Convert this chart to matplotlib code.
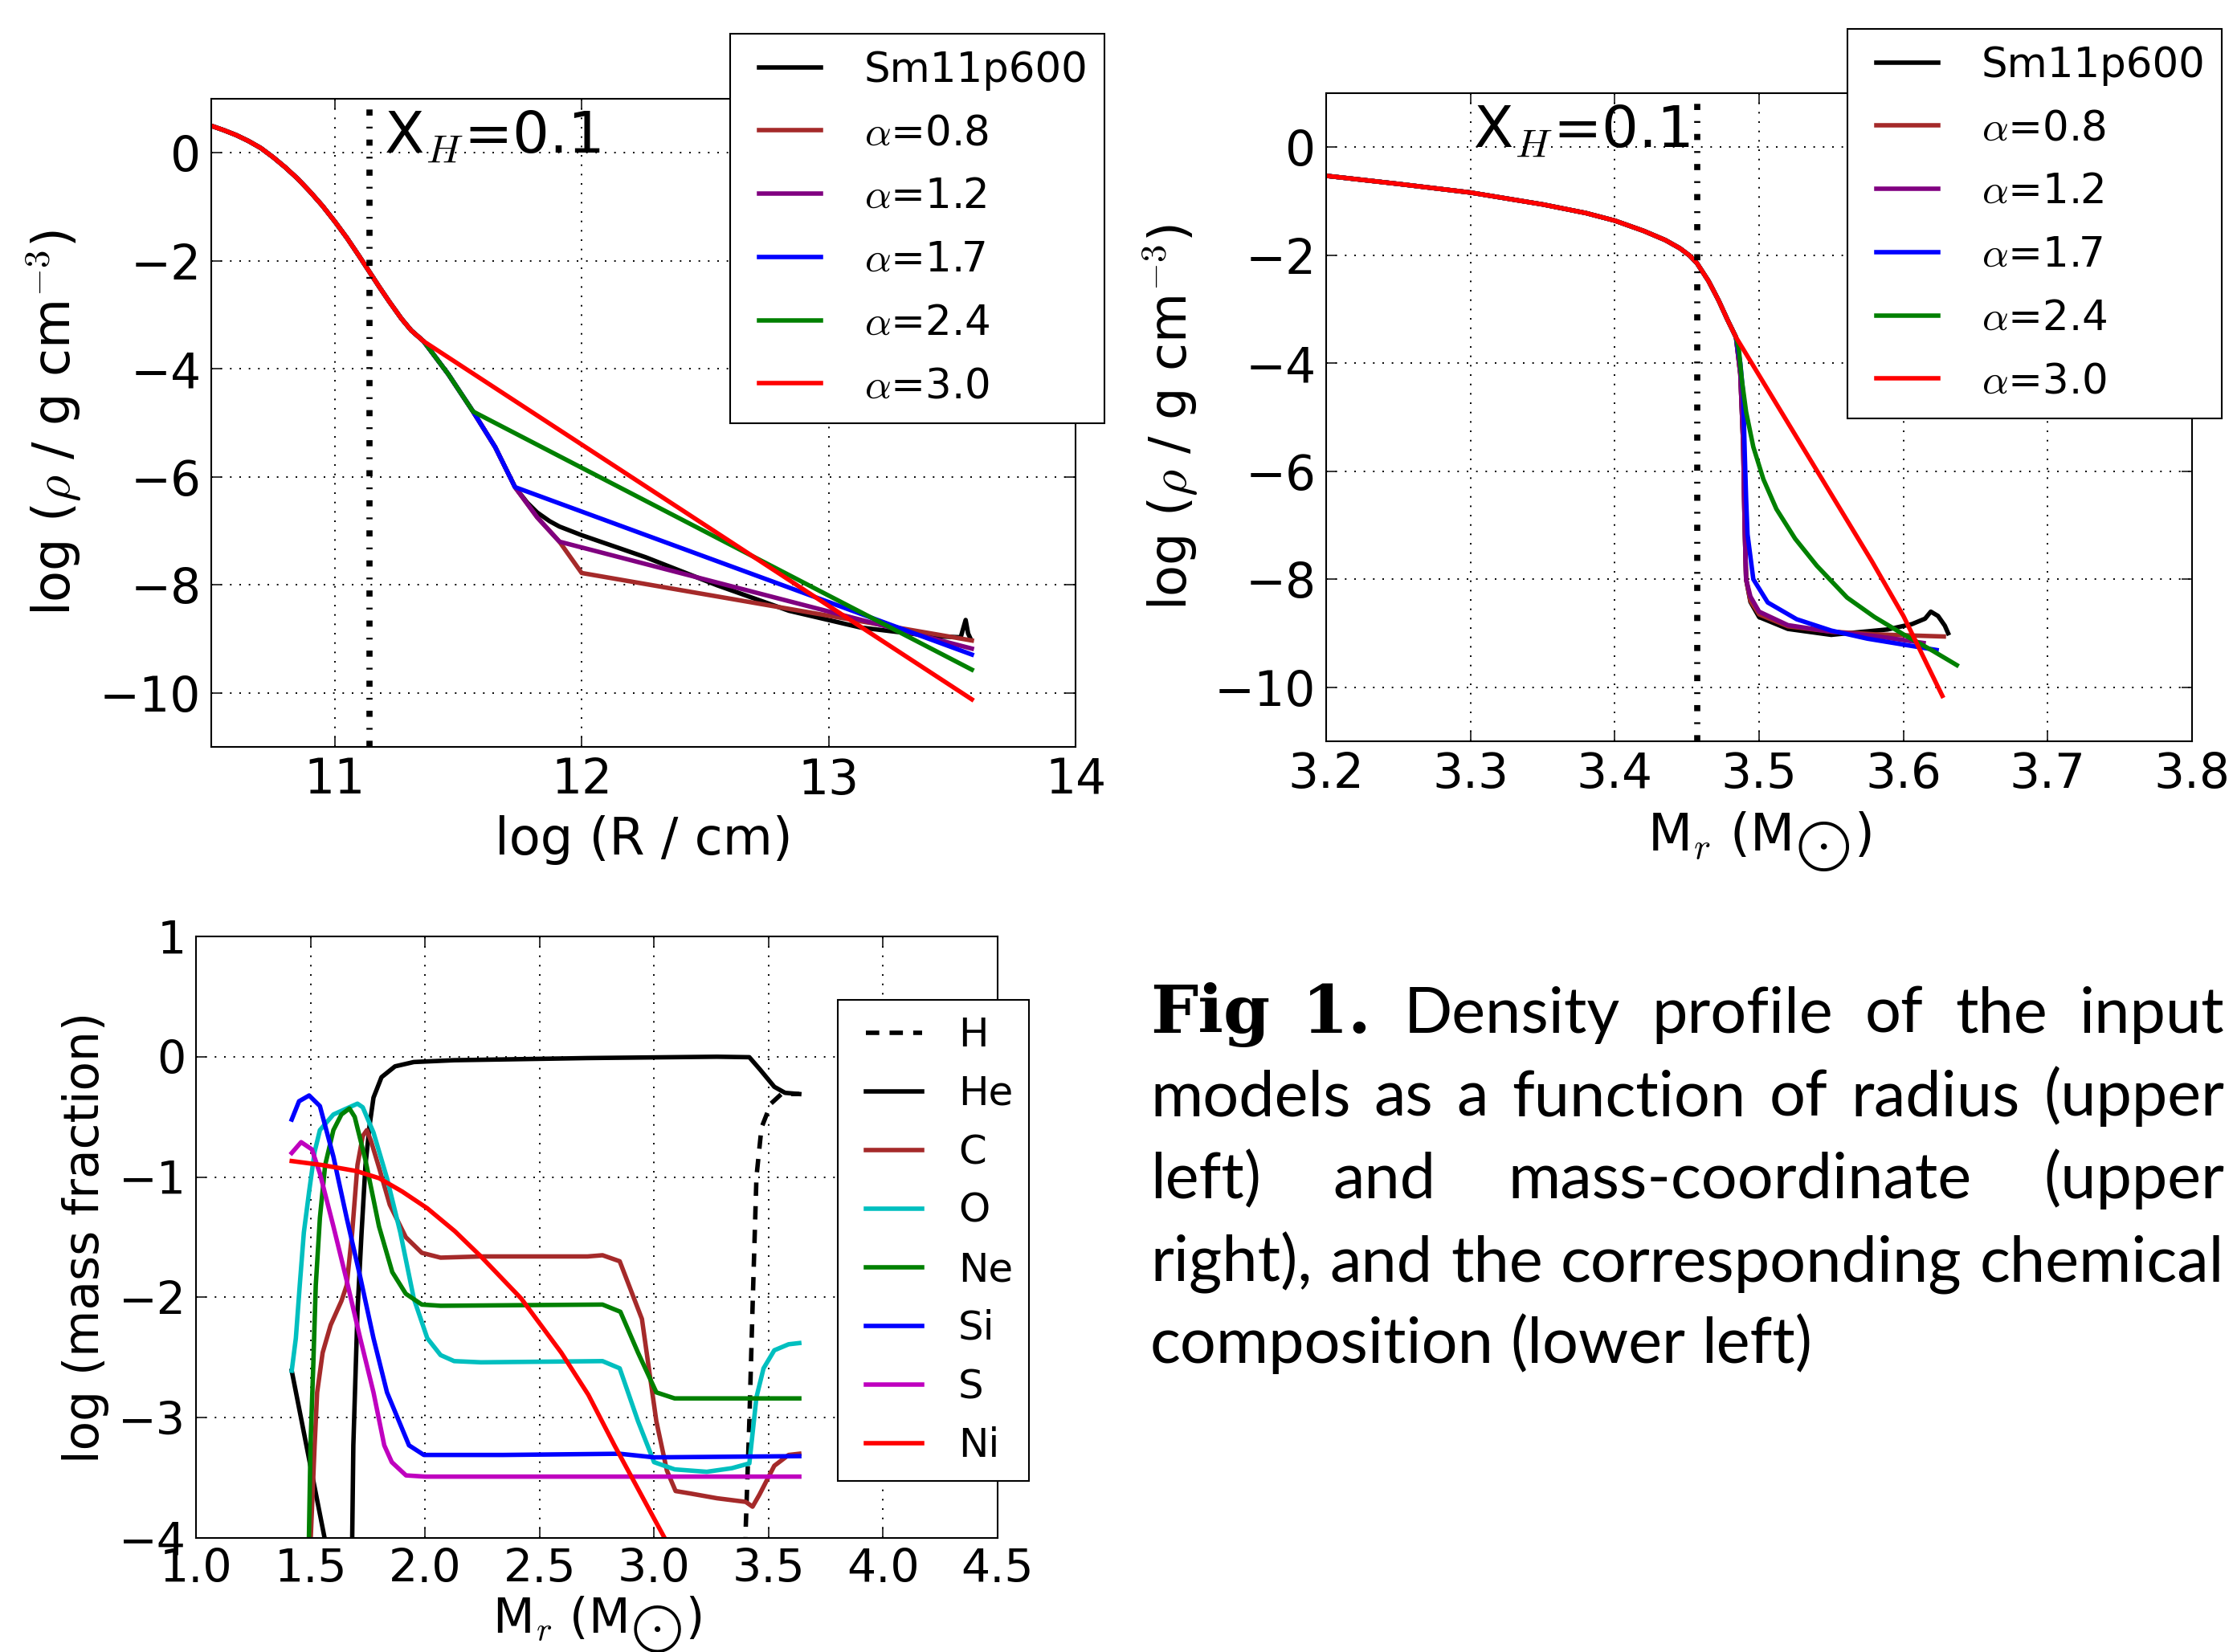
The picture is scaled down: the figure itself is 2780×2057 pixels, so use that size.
import matplotlib
matplotlib.use('Agg')
import matplotlib.pyplot as plt
from matplotlib.lines import Line2D
from matplotlib.legend_handler import HandlerLine2D
import numpy as np

plt.rcParams['font.family'] = 'DejaVu Sans'
plt.rcParams['mathtext.fontset'] = 'cm'
plt.rcParams['axes.linewidth'] = 1.5

W, H = 2780, 2057

# ---- upper left: log rho vs log R ----
r_core = [10.50, 10.55, 10.60, 10.65, 10.70, 10.75, 10.80, 10.85, 10.90, 10.95, 11.00, 11.05,
          11.10, 11.14, 11.18, 11.22, 11.27, 11.31, 11.36]
rho_core = [0.50, 0.42, 0.33, 0.22, 0.09, -0.08, -0.27, -0.48, -0.72, -0.98, -1.27, -1.58,
            -1.92, -2.20, -2.48, -2.75, -3.07, -3.29, -3.49]
r_steep = [11.46, 11.56]
rho_steep = [-4.10, -4.79]
r_black = [11.65, 11.73, 11.78, 11.82, 11.87, 11.91, 12.00, 12.26, 12.55, 12.84, 13.13, 13.42, 13.535, 13.555, 13.565, 13.575]
rho_black = [-5.45, -6.19, -6.48, -6.66, -6.82, -6.92, -7.08, -7.49, -8.01, -8.48, -8.79, -8.95, -8.97, -8.65, -8.90, -9.00]
r_a08 = [11.65, 11.73, 11.82, 11.91, 12.00, 13.58]
rho_a08 = [-5.45, -6.19, -6.75, -7.20, -7.78, -9.03]
r_a12 = [11.65, 11.73, 11.82, 11.91, 13.58]
rho_a12 = [-5.45, -6.19, -6.75, -7.20, -9.18]
r_a17 = [11.65, 11.73, 13.58]
rho_a17 = [-5.45, -6.19, -9.29]
r_a24 = [13.58]
rho_a24 = [-9.57]
r_a30 = [13.58]
rho_a30 = [-10.12]

# ---- upper right: log rho vs M_r ----
m_core = [3.20, 3.25, 3.30, 3.35, 3.38, 3.40, 3.42, 3.435, 3.445, 3.452, 3.457, 3.465, 3.472, 3.478, 3.484]
mrho_core = [-0.53, -0.68, -0.84, -1.06, -1.22, -1.36, -1.55, -1.72, -1.87, -2.01, -2.15, -2.48, -2.84, -3.19, -3.52]
m_black = [3.487, 3.489, 3.490, 3.491, 3.494, 3.50, 3.52, 3.55, 3.561, 3.589, 3.606, 3.615, 3.619, 3.624, 3.6287, 3.631]
mrho_black = [-4.2, -5.5, -7.0, -8.0, -8.42, -8.70, -8.92, -9.03, -9.00, -8.93, -8.83, -8.73, -8.60, -8.68, -8.86, -9.00]
m_a08 = [3.487, 3.489, 3.490, 3.491, 3.494, 3.50, 3.52, 3.55, 3.58, 3.628]
mrho_a08 = [-4.2, -5.5, -7.0, -8.0, -8.40, -8.65, -8.87, -8.97, -9.02, -9.06]
m_a12 = [3.487, 3.489, 3.490, 3.491, 3.494, 3.50, 3.52, 3.55, 3.58, 3.614]
mrho_a12 = [-4.2, -5.5, -7.0, -8.0, -8.32, -8.60, -8.85, -8.97, -9.05, -9.18]
m_a17 = [3.487, 3.489, 3.490, 3.491, 3.492, 3.496, 3.506, 3.526, 3.55, 3.575, 3.60, 3.623]
mrho_a17 = [-4.0, -4.57, -5.6, -6.5, -7.17, -8.00, -8.43, -8.74, -8.95, -9.10, -9.21, -9.31]
m_a24 = [3.486, 3.488, 3.491, 3.496, 3.503, 3.512, 3.525, 3.54, 3.561, 3.58, 3.60, 3.62, 3.637]
mrho_a24 = [-3.75, -4.3, -4.9, -5.55, -6.15, -6.7, -7.25, -7.75, -8.34, -8.7, -9.02, -9.32, -9.59]
m_a30 = [3.578, 3.60, 3.627]
mrho_a30 = [-7.66, -8.68, -10.16]

# ---- lower left: composition ----
m_h = [3.397, 3.40, 3.416, 3.431, 3.447, 3.469, 3.51, 3.556, 3.634]
x_h = [-4.3, -3.93, -3.03, -2.02, -1.0, -0.59, -0.39, -0.31, -0.31]
m_he = [1.418, 1.482, 1.675, 1.687, 1.705, 1.723, 1.74, 1.758, 1.775, 1.81, 1.869, 1.951,
        2.127, 2.71, 3.275, 3.416, 3.4625, 3.525, 3.572, 3.634]
x_he = [-2.61, -3.23, -5.1, -3.23, -2.12, -1.46, -0.9, -0.57, -0.34, -0.17, -0.08, -0.044,
        -0.029, -0.011, 0.0, -0.004, -0.106, -0.25, -0.30, -0.31]
m_c = [1.498, 1.501, 1.518, 1.529, 1.553, 1.588, 1.635, 1.658, 1.682, 1.705, 1.728, 1.746,
       1.764, 1.799, 1.846, 1.916, 1.986, 2.068, 2.244, 2.71, 2.775, 2.85, 2.947, 3.01, 3.056,
       3.094, 3.157, 3.275, 3.40, 3.43, 3.46, 3.525, 3.5875, 3.634]
x_c = [-5.0, -4.0, -3.23, -2.79, -2.46, -2.23, -2.03, -1.9, -1.46, -0.9, -0.66, -0.61,
       -0.7, -0.92, -1.23, -1.5, -1.63, -1.67, -1.66, -1.66, -1.65, -1.70, -2.18, -3.03, -3.44,
       -3.61, -3.63, -3.67, -3.70, -3.74, -3.64, -3.40, -3.31, -3.30]
m_o = [1.418, 1.436, 1.453, 1.471, 1.494, 1.518, 1.541, 1.60, 1.658, 1.705, 1.728, 1.775,
       1.834, 1.892, 1.951, 2.01, 2.068, 2.127, 2.244, 2.775, 2.85, 2.93, 3.0, 3.09, 3.23,
       3.34, 3.416, 3.447, 3.478, 3.525, 3.5875, 3.634]
x_o = [-2.61, -2.34, -1.9, -1.46, -1.12, -0.79, -0.61, -0.48, -0.43, -0.39, -0.42, -0.63,
       -1.01, -1.46, -2.01, -2.34, -2.48, -2.53, -2.54, -2.53, -2.59, -3.03, -3.37, -3.43, -3.45,
       -3.42, -3.38, -2.83, -2.59, -2.44, -2.39, -2.38]
m_ne = [1.484, 1.50, 1.512, 1.523, 1.541, 1.564, 1.60, 1.635, 1.67, 1.693, 1.74, 1.799,
        1.857, 1.916, 1.986, 2.068, 2.775, 2.853, 2.93, 3.01, 3.09, 3.634]
x_ne = [-5.0, -3.23, -2.57, -1.9, -1.34, -0.9, -0.61, -0.48, -0.43, -0.5, -0.86, -1.41,
        -1.79, -1.97, -2.06, -2.07, -2.06, -2.12, -2.46, -2.79, -2.84, -2.84]
m_si = [1.418, 1.45, 1.494, 1.541, 1.60, 1.658, 1.717, 1.775, 1.834, 1.93, 1.995, 2.34, 2.85, 3.0, 3.634]
x_si = [-0.522, -0.37, -0.322, -0.41, -0.83, -1.34, -1.83, -2.34, -2.79, -3.23, -3.31, -3.31, -3.30, -3.33, -3.32]
m_s = [1.418, 1.459, 1.506, 1.541, 1.60, 1.658, 1.717, 1.775, 1.822, 1.855, 1.917, 2.0, 3.634]
x_s = [-0.8, -0.71, -0.77, -0.97, -1.41, -1.86, -2.34, -2.79, -3.23, -3.37, -3.48, -3.49, -3.49]
m_ni = [1.418, 1.55, 1.70, 1.80, 1.90, 2.01, 2.13, 2.244, 2.42, 2.595, 2.713, 2.827, 3.046, 3.10]
x_ni = [-0.867, -0.9, -0.95, -1.01, -1.12, -1.26, -1.45, -1.66, -2.01, -2.46, -2.81, -3.23, -4.0, -4.2]

xh_radius = 11.142
xh_mass = 3.457

caption_lines = [
    "Fig 1. Density profile of the input",
    "models as a function of radius (upper",
    "left) and mass-coordinate (upper",
    "right), and the corresponding chemical",
    "composition (lower left)",
]

LW = 4.0
GRID = dict(color='k', linestyle=(0, (1, 5)), linewidth=1.4)
XH_STYLE = dict(color='k', lw=5.5, linestyle=(0, (1, 1.8, 0.3, 1.8)))
MSUN = r'M$_r$ (M$_{\bigodot}$)'


def style_axes(ax, labelsize):
    ax.tick_params(direction='in', top=True, right=True, length=9.5, width=1.1,
                   labelsize=labelsize, pad=9)
    ax.grid(True, **GRID)
    ax.set_axisbelow(True)


def legend_at(ax, x_px, y_px, fontsize, spacing, hlen, tpad):
    leg = ax.legend(loc='upper left', bbox_to_anchor=(x_px / W, 1 - y_px / H),
                    bbox_transform=fig.transFigure, fontsize=fontsize, fancybox=False,
                    framealpha=1, edgecolor='k', borderaxespad=0, borderpad=0.4,
                    labelspacing=spacing, handlelength=hlen, handletextpad=tpad,
                    handler_map={Line2D: HandlerLine2D(xpad=0.3)})
    leg.get_frame().set_linewidth(1.5)
    return leg


def join(a, b):
    return list(a) + list(b)


fig = plt.figure(figsize=(W / 100, H / 100), dpi=100)

# upper left
ax1 = fig.add_axes([263 / W, 1 - 930 / H, 1076 / W, 807 / H])
r_pre = join(r_core, r_steep)
rho_pre = join(rho_core, rho_steep)
ax1.plot(join(r_pre, r_black), join(rho_pre, rho_black), color='k', lw=LW, label='Sm11p600')
ax1.plot(join(r_pre, r_a08), join(rho_pre, rho_a08), color='brown', lw=LW, label=r'$\alpha$=0.8')
ax1.plot(join(r_pre, r_a12), join(rho_pre, rho_a12), color='purple', lw=LW, label=r'$\alpha$=1.2')
ax1.plot(join(r_pre, r_a17), join(rho_pre, rho_a17), color='b', lw=LW, label=r'$\alpha$=1.7')
ax1.plot(join(r_pre, r_a24), join(rho_pre, rho_a24), color='g', lw=LW, label=r'$\alpha$=2.4')
ax1.plot(join(r_core, r_a30), join(rho_core, rho_a30), color='r', lw=LW, label=r'$\alpha$=3.0')
ax1.axvline(xh_radius, **XH_STYLE)
ax1.text(11.2, 0.0, r'X$_H$=0.1', fontsize=52, va='baseline')
ax1.set_xlim(10.5, 14)
ax1.set_ylim(-11, 1)
ax1.set_xticks([11, 12, 13, 14])
ax1.set_yticks([-10, -8, -6, -4, -2, 0])
style_axes(ax1, 43)
ax1.set_xlabel('log (R / cm)', fontsize=46)
ax1.set_ylabel(r'log ($\rho$ / g cm$^{-3}$)', fontsize=46)
ax1.xaxis.set_label_coords(0.5, -0.105)
ax1.yaxis.set_label_coords(-0.148, 0.5)
legend_at(ax1, 909, 42, 37, 0.56, 1.8, 1.05)

# upper right
ax2 = fig.add_axes([1651 / W, 1 - 923 / H, 1078 / W, 807 / H])
ax2.plot(join(m_core, m_black), join(mrho_core, mrho_black), color='k', lw=LW, label='Sm11p600')
ax2.plot(join(m_core, m_a08), join(mrho_core, mrho_a08), color='brown', lw=LW, label=r'$\alpha$=0.8')
ax2.plot(join(m_core, m_a12), join(mrho_core, mrho_a12), color='purple', lw=LW, label=r'$\alpha$=1.2')
ax2.plot(join(m_core, m_a17), join(mrho_core, mrho_a17), color='b', lw=LW, label=r'$\alpha$=1.7')
ax2.plot(join(m_core, m_a24), join(mrho_core, mrho_a24), color='g', lw=LW, label=r'$\alpha$=2.4')
ax2.plot(join(m_core, m_a30), join(mrho_core, mrho_a30), color='r', lw=LW, label=r'$\alpha$=3.0')
ax2.axvline(xh_mass, **XH_STYLE)
ax2.text(3.302, 0.0, r'X$_H$=0.1', fontsize=52, va='baseline')
ax2.set_xlim(3.2, 3.8)
ax2.set_ylim(-11, 1)
ax2.set_xticks(np.arange(3.2, 3.81, 0.1))
ax2.set_xticklabels(['%.1f' % v for v in np.arange(3.2, 3.81, 0.1)])
ax2.set_yticks([-10, -8, -6, -4, -2, 0])
style_axes(ax2, 43)
ax2.set_xlabel(MSUN, fontsize=46)
ax2.set_ylabel(r'log ($\rho$ / g cm$^{-3}$)', fontsize=46)
ax2.xaxis.set_label_coords(0.5, -0.106)
ax2.yaxis.set_label_coords(-0.146, 0.5)
legend_at(ax2, 2300, 36, 37, 0.56, 1.8, 1.05)

# lower left
ax3 = fig.add_axes([244 / W, 1 - 1915 / H, 998 / W, 749 / H])
ax3.plot(m_h, x_h, color='k', lw=LW, linestyle=(0, (3.0, 2.3)), label='H')
ax3.plot(m_he, x_he, color='k', lw=LW, label='He')
ax3.plot(m_c, x_c, color='brown', lw=LW, label='C')
ax3.plot(m_o, x_o, color='c', lw=LW, label='O')
ax3.plot(m_ne, x_ne, color='g', lw=LW, label='Ne')
ax3.plot(m_si, x_si, color='b', lw=LW, label='Si')
ax3.plot(m_s, x_s, color='m', lw=LW, label='S')
ax3.plot(m_ni, x_ni, color='r', lw=LW, label='Ni')
ax3.set_xlim(1.0, 4.5)
ax3.set_ylim(-4, 1)
ax3.set_xticks(np.arange(1.0, 4.51, 0.5))
ax3.set_xticklabels(['%.1f' % v for v in np.arange(1.0, 4.51, 0.5)])
ax3.set_yticks([-4, -3, -2, -1, 0, 1])
style_axes(ax3, 41)
ax3.set_xlabel(MSUN, fontsize=43)
ax3.set_ylabel('log (mass fraction)', fontsize=43)
ax3.xaxis.set_label_coords(0.5, -0.094)
ax3.yaxis.set_label_coords(-0.108, 0.5)
legend_at(ax3, 1043, 1245, 36, 0.5, 1.7, 0.9)

# caption, justified like the source text block
renderer = fig.canvas.get_renderer()
cap_left, cap_right = 1432, 2769
cap_base = [1286, 1389, 1492, 1595, 1697]

probe = fig.text(0, 0, caption_lines[-1], family='Lato', fontsize=10)
size = 10 * 828 / probe.get_window_extent(renderer).width
probe.remove()

for i, line in enumerate(caption_lines):
    words = line.split()
    arts = []
    for j, w in enumerate(words):
        if i == 0 and j < 2:
            t = fig.text(0, 1 - cap_base[i] / H, w, family='DejaVu Serif', weight='bold',
                         fontsize=60, va='baseline')
        else:
            t = fig.text(0, 1 - cap_base[i] / H, w, family='Lato', fontsize=size, va='baseline')
        arts.append(t)
    widths = [t.get_window_extent(renderer).width for t in arts]
    if i == len(caption_lines) - 1:
        sp = fig.text(0, 0, 'a a', family='Lato', fontsize=size)
        sp2 = fig.text(0, 0, 'aa', family='Lato', fontsize=size)
        gap = sp.get_window_extent(renderer).width - sp2.get_window_extent(renderer).width
        sp.remove()
        sp2.remove()
    else:
        gap = (cap_right - cap_left - sum(widths)) / (len(words) - 1)
    x = cap_left
    for t, wd in zip(arts, widths):
        t.set_x(x / W)
        x += wd + gap

fig.savefig('out.png', dpi=100)
